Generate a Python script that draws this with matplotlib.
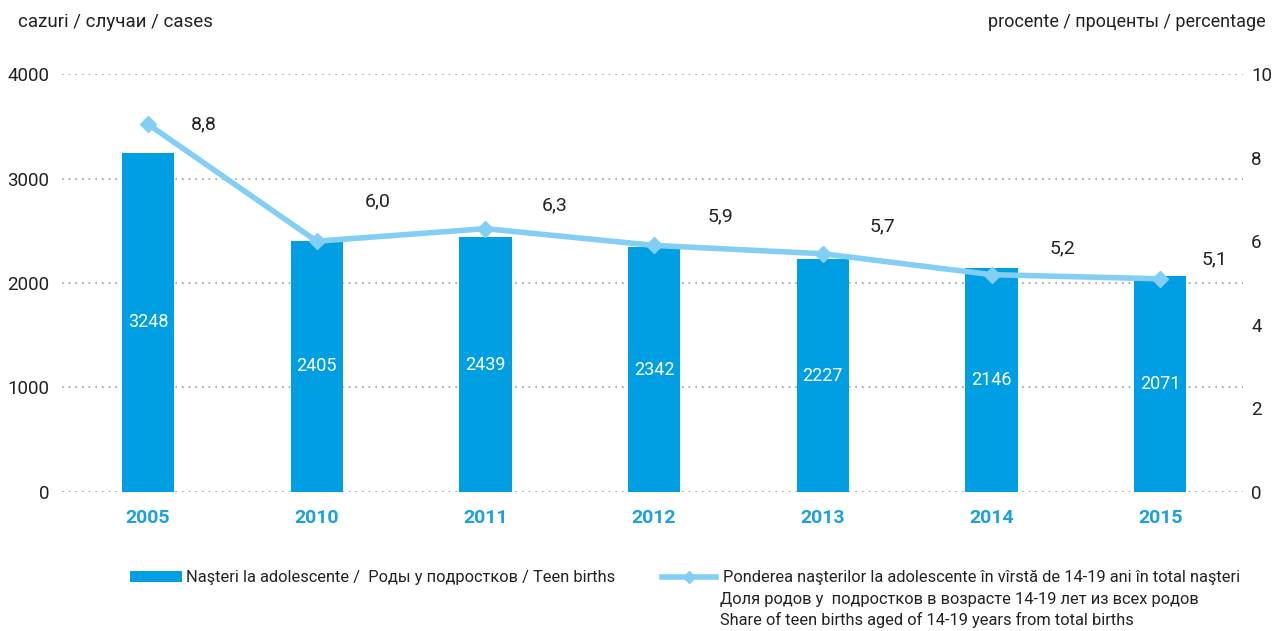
import numpy as np
import matplotlib.pyplot as plt
from matplotlib.lines import Line2D
from matplotlib.patches import Patch

years = ['2005', '2010', '2011', '2012', '2013', '2014', '2015']
teen_births = [3248, 2405, 2439, 2342, 2227, 2146, 2071]
share_pct = [8.8, 6.0, 6.3, 5.9, 5.7, 5.2, 5.1]
share_labels = ['8,8', '6,0', '6,3', '5,9', '5,7', '5,2', '5,1']

bar_label = 'Naşteri la adolescente /  Роды у подростков / Teen births'
line_label = ['Ponderea naşterilor la adolescente în vîrstă de 14-19 ani în total naşteri',
              'Доля родов у  подростков в возрасте 14-19 лет из всех родов',
              'Share of teen births aged of 14-19 years from total births']

bar_color = '#009fe3'
line_color = '#82cff3'
text_color = '#222222'

plt.rcParams['font.family'] = ['Roboto', 'DejaVu Sans']

fig = plt.figure(figsize=(12.8, 6.31), dpi=100)
ax = fig.add_axes([0.0484, 0.2203, 0.9226, 0.6624])
ax2 = ax.twinx()

x = np.arange(len(years))
ax.bar(x, teen_births, width=0.31, color=bar_color, zorder=2)
for xi, v in zip(x, teen_births):
    ax.text(xi, v / 2, str(v), ha='center', va='center', color='white',
            fontsize=13, zorder=3)

ax.set_xlim(-0.51, 6.49)
ax.set_ylim(0, 4000)
ax.set_yticks([0, 1000, 2000, 3000, 4000])
ax.grid(axis='y', linestyle=(0, (1, 3)), color='#9a9a9a', linewidth=1.2, zorder=0)
ax.set_axisbelow(True)
ax.set_xticks(x)
ax.set_xticklabels(years, color='#1ba1e2', fontweight='bold', fontsize=14)
ax.tick_params(axis='x', length=0, pad=12)
ax.tick_params(axis='y', length=0, pad=9, labelsize=13.5, labelcolor=text_color)
for s in ax.spines.values():
    s.set_visible(False)

ax2.plot(x, share_pct, color=line_color, linewidth=4, marker='D', markersize=8,
         zorder=4)
ax2.set_ylim(0, 10)
ax2.set_yticks([0, 2, 4, 6, 8, 10])
ax2.tick_params(axis='y', length=0, pad=6, labelsize=13.5, labelcolor=text_color)
for s in ax2.spines.values():
    s.set_visible(False)

# label offsets in points (dx, dy)
offsets = [(40, 0), (44, 29), (50, 17), (48, 21), (43, 20), (51, 19), (39, 14)]
for xi, v, lab, (dx, dy) in zip(x, share_pct, share_labels, offsets):
    ax2.annotate(lab, (xi, v), xytext=(dx, dy), textcoords='offset points',
                 ha='center', va='center', fontsize=14, color=text_color)

fig.text(0.014, 0.965, 'cazuri / случаи / cases', fontsize=13.5, color=text_color,
         ha='left', va='center')
fig.text(0.989, 0.965, 'procente / проценты / percentage', fontsize=13,
         color=text_color, ha='right', va='center')

h1 = Patch(facecolor=bar_color)
h2 = Line2D([], [], color=line_color, linewidth=4, marker='D', markersize=6)
fig.legend([h1], [bar_label], loc='center left', bbox_to_anchor=(0.09, 0.084),
           frameon=False, fontsize=11.8, handlelength=3.15, handleheight=0.7,
           handletextpad=0.3, labelcolor=text_color)
fig.legend([h2], [line_label[0]], loc='center left', bbox_to_anchor=(0.506, 0.084),
           frameon=False, fontsize=11.8, handlelength=3.25, handletextpad=0.45,
           labelcolor=text_color)
for i, line in enumerate(line_label[1:], start=1):
    fig.text(0.5625, 0.084 - i * 0.0333, line, fontsize=11.8, color=text_color,
             ha='left', va='center')

fig.savefig('out.png', dpi=100)
